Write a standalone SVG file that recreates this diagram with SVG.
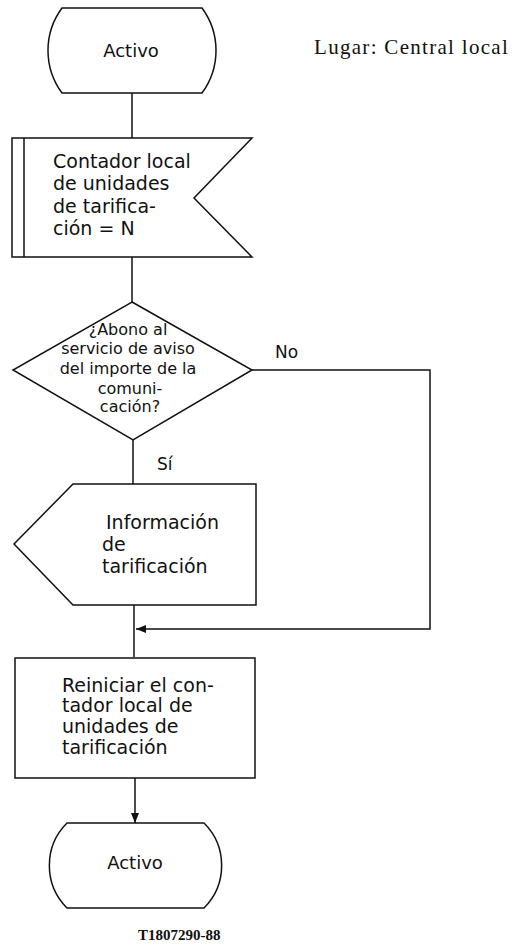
<svg xmlns="http://www.w3.org/2000/svg" width="527" height="946" viewBox="0 0 527 946">
<defs>
<style>
.s{fill:#fff;stroke:#111;stroke-width:1.5}
.c{fill:none;stroke:#111;stroke-width:1.5}
.t{font-family:"DejaVu Sans",sans-serif;fill:#111}
.b{font-size:19px}
.d{font-size:16px}
.sr{font-family:"Liberation Serif",serif;fill:#111}
</style>
<marker id="ah" viewBox="0 0 10 8" refX="10" refY="4" markerWidth="10" markerHeight="8" markerUnits="userSpaceOnUse" orient="auto">
<path d="M0,0 L10,4 L0,8 Z" fill="#111"/>
</marker>
</defs>
<rect width="527" height="946" fill="#fff"/>
<g id="connectors">
<path class="c" d="M132,93 V138"/>
<path class="c" d="M132,257 V302"/>
<path class="c" d="M133,440 V484"/>
<path class="c" d="M252,370 H430 V629 H136" marker-end="url(#ah)"/>
<path class="c" d="M134,605 V657"/>
<path class="c" d="M135,778 V823" marker-end="url(#ah)"/>
</g>
<g id="start">
<path class="s" d="M62,8 H202 A71.5,71.5 0 0 1 202,93 H62 A71.5,71.5 0 0 1 62,8 Z"/>
<text class="t" x="131" y="57" font-size="18" text-anchor="middle">Activo</text>
</g>
<g id="place">
<text class="sr" x="314" y="54" font-size="21" letter-spacing="1.3">Lugar: Central local</text>
</g>
<g id="counter">
<path class="s" d="M12,138 H252 L194,198 L252,257 H12 Z"/>
<path class="c" d="M24,138 V257"/>
<text class="t b" x="53" y="168">Contador local</text>
<text class="t b" x="53" y="190">de unidades</text>
<text class="t b" x="53" y="213">de tarifica-</text>
<text class="t b" x="53" y="235">ción = N</text>
</g>
<g id="decision">
<path class="s" d="M132,302 L252,370 L133,440 L13,370 Z"/>
<text class="t d" x="128" y="335" text-anchor="middle">¿Abono al</text>
<text class="t d" x="128" y="354" text-anchor="middle">servicio de aviso</text>
<text class="t d" x="128" y="374" text-anchor="middle">del importe de la</text>
<text class="t d" x="130" y="394" text-anchor="middle">comuni-</text>
<text class="t d" x="130" y="412" text-anchor="middle">cación?</text>
</g>
<g id="labels">
<text class="t" x="275" y="358" font-size="17">No</text>
<text class="t" x="157" y="470" font-size="17">Sí</text>
</g>
<g id="info">
<path class="s" d="M73,484 H256 V605 H73 L14,544 Z"/>
<text class="t b" x="106" y="529">Información</text>
<text class="t b" x="102" y="551">de</text>
<text class="t b" x="102" y="573">tarificación</text>
</g>
<g id="reset">
<rect class="s" x="15" y="658" width="240" height="120"/>
<text class="t b" x="62" y="692">Reiniciar el con-</text>
<text class="t b" x="62" y="712">tador local de</text>
<text class="t b" x="62" y="733">unidades de</text>
<text class="t b" x="62" y="754">tarificación</text>
</g>
<g id="end">
<path class="s" d="M67,823 H204 A60,60 0 0 1 204,908 H67 A60,60 0 0 1 67,823 Z"/>
<text class="t" x="135" y="869" font-size="18" text-anchor="middle">Activo</text>
</g>
<g id="ref">
<text class="sr" x="138" y="940" font-size="15" font-weight="bold">T1807290-88</text>
</g>
</svg>
